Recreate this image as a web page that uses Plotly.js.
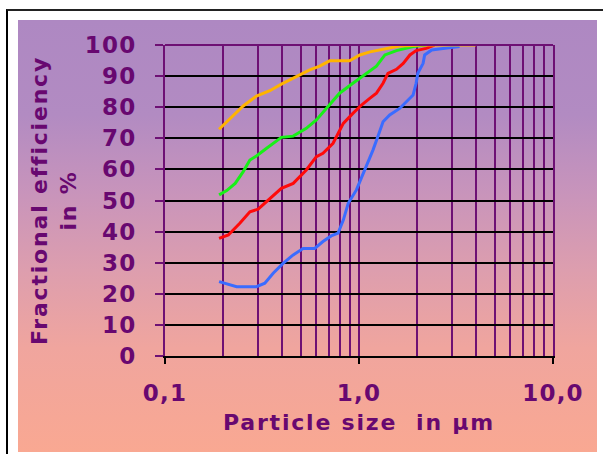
<!DOCTYPE html>
<html>
<head>
<meta charset="utf-8">
<script src="https://cdn.plot.ly/plotly-3.0.1.min.js"></script>
<style>
  html, body { margin: 0; padding: 0; background: #ffffff; }
  #wrap { position: relative; width: 603px; height: 454px; overflow: hidden; background: #ffffff; }
  #frame { position: absolute; left: 6px; top: 9px; width: 620px; height: 470px;
           border-top: 2px solid #222; border-left: 2px solid #000; }
  #grad { position: absolute; left: 18px; top: 20px; width: 579px; height: 432px;
          background: linear-gradient(to bottom, #ae88c2 0%, #b28bc2 22%, #c894bb 40%, #dd9eae 58%, #f0a59e 76%, #f9a892 100%); }
  #chart { position: absolute; left: 0; top: 0; width: 603px; height: 454px; }
  .xtick text, .ytick text { letter-spacing: 1.2px; }
  .xtitle, .ytitle { letter-spacing: 1.8px; }
</style>
</head>
<body>
<div id="wrap">
  <div id="frame"></div>
  <div id="grad"></div>
  <div id="chart"></div>
</div>
<script>
// Particle size (µm) and fractional efficiency (%) for the four curves
const yellowX = [0.19, 0.216, 0.253, 0.296, 0.347, 0.398, 0.476, 0.557, 0.627, 0.706, 0.894, 1.01, 1.14, 1.33, 1.62, 2.2, 4.0];
const yellowY = [72.9, 76.4, 80.4, 83.6, 85.3, 87.4, 89.8, 92.0, 93.2, 94.9, 94.9, 96.8, 97.8, 98.6, 99.7, 100, 100];

const greenX = [0.19, 0.208, 0.230, 0.253, 0.274, 0.296, 0.334, 0.398, 0.458, 0.535, 0.603, 0.694, 0.794, 0.93, 1.09, 1.23, 1.36, 1.56, 1.90, 2.22];
const greenY = [51.8, 53.2, 55.5, 59.3, 63.0, 64.3, 66.8, 70.3, 70.7, 73.2, 75.9, 80.2, 84.5, 87.7, 90.9, 93.2, 96.8, 98.2, 99.5, 100];

const redX = [0.19, 0.212, 0.243, 0.274, 0.302, 0.340, 0.398, 0.458, 0.535, 0.603, 0.652, 0.735, 0.78, 0.83, 0.93, 1.03, 1.14, 1.23, 1.33, 1.41, 1.56, 1.69, 1.83, 1.97, 2.22, 2.45];
const redY = [37.8, 38.9, 42.7, 46.4, 47.2, 50.2, 53.9, 55.5, 59.8, 64.1, 65.2, 68.4, 71.6, 74.8, 78.0, 80.7, 82.9, 84.5, 87.7, 90.9, 92.2, 94.1, 96.8, 98.2, 98.9, 100];

const blueX = [0.19, 0.216, 0.234, 0.296, 0.327, 0.361, 0.406, 0.458, 0.515, 0.591, 0.652, 0.719, 0.78, 0.83, 0.88, 0.97, 1.09, 1.18, 1.25, 1.33, 1.44, 1.62, 1.90, 1.97, 2.01, 2.14, 2.18, 2.37, 2.71, 3.05, 3.3];
const blueY = [23.9, 22.8, 22.3, 22.3, 23.4, 26.6, 29.8, 32.5, 34.6, 34.6, 36.8, 38.6, 39.5, 43.7, 49.1, 53.4, 60.9, 66.2, 70.5, 75.3, 77.5, 79.6, 83.9, 87.7, 90.9, 94.1, 96.8, 98.4, 98.9, 99.3, 99.5];

// Tick labels
const xTickVals = [0.1, 1, 10];
const xTickText = ['0,1', '1,0', '10,0'];
const yTickVals = [0, 10, 20, 30, 40, 50, 60, 70, 80, 90, 100];

const purple = '#680870';
const gridPurple = '#6e1074';
const font = 'DejaVu Sans, Verdana, sans-serif';

function line(x, y, color) {
  return { x: x, y: y, type: 'scatter', mode: 'lines', line: { color: color, width: 3 }, hoverinfo: 'skip', showlegend: false };
}

const data = [
  line(blueX, blueY, '#3a6cff'),
  line(redX, redY, '#ff0a0a'),
  line(greenX, greenY, '#18f018'),
  line(yellowX, yellowY, '#ffb400')
];

const layout = {
  width: 603, height: 454,
  margin: { l: 165, r: 50, t: 45, b: 98, pad: 0 },
  paper_bgcolor: 'rgba(0,0,0,0)',
  plot_bgcolor: 'rgba(0,0,0,0)',
  showlegend: false,
  font: { family: font, color: purple },
  xaxis: {
    type: 'log', range: [-1, 1], autorange: false,
    tickmode: 'array', tickvals: xTickVals, ticktext: xTickText,
    tickfont: { family: font, size: 23, color: purple, weight: 'bold' },
    ticks: 'outside', ticklen: 6, tickwidth: 2, tickcolor: '#000',
    ticklabelstandoff: 9,
    showgrid: true, gridcolor: gridPurple, gridwidth: 2,
    minor: { dtick: 'D1', showgrid: true, gridcolor: gridPurple, gridwidth: 2, ticks: '' },
    showline: true, linecolor: '#000', linewidth: 2,
    zeroline: false,
    title: { text: 'Particle size  in µm', font: { family: font, size: 22, color: purple, weight: 'bold' }, standoff: 10 }
  },
  yaxis: {
    range: [0, 100], autorange: false,
    tickmode: 'array', tickvals: yTickVals,
    tickfont: { family: font, size: 23, color: purple, weight: 'bold' },
    ticks: 'outside', ticklen: 8, tickwidth: 2, tickcolor: gridPurple,
    ticklabelstandoff: 14,
    showgrid: true, gridcolor: '#000', gridwidth: 2,
    showline: true, linecolor: gridPurple, linewidth: 2, mirror: true,
    zeroline: false,
    title: { text: 'Fractional efficiency<br>in %', font: { family: font, size: 22, color: purple, weight: 'bold' }, standoff: 2 }
  },
  shapes: [
    { type: 'line', xref: 'paper', yref: 'paper', x0: 0, x1: 1, y0: 1, y1: 1, line: { color: gridPurple, width: 2 } }
  ]
};

Plotly.newPlot('chart', data, layout, { displayModeBar: false, staticPlot: true });
</script>
</body>
</html>
